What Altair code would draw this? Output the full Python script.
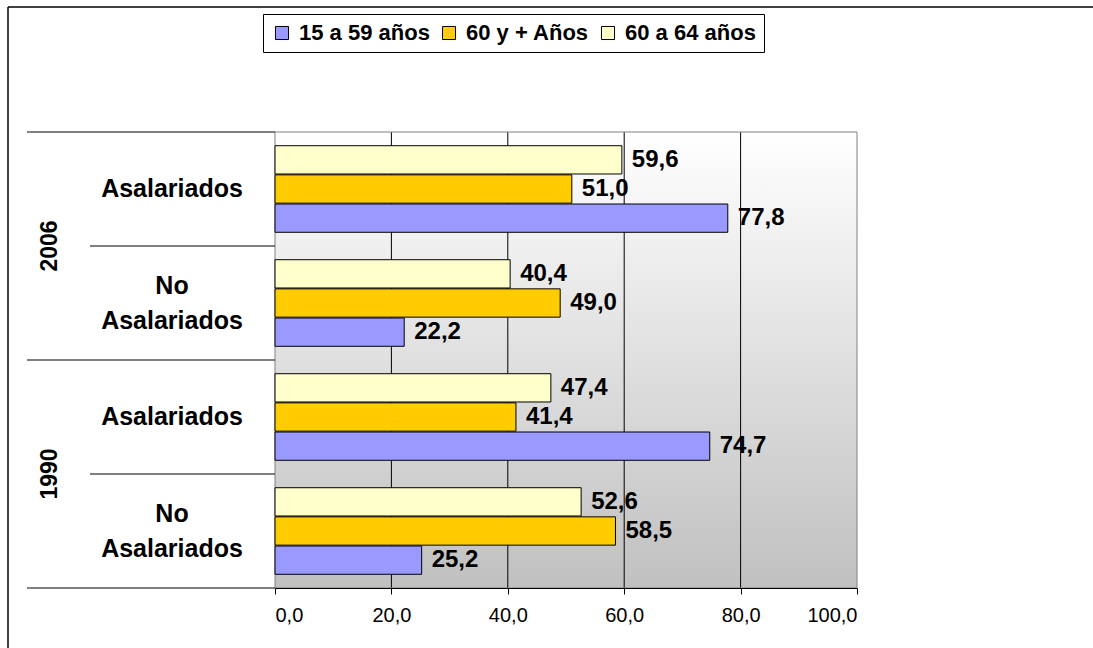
import altair as alt
import pandas as pd

years = ["2006", "2006", "1990", "1990"]
tipos = ["Asalariados", "No Asalariados", "Asalariados", "No Asalariados"]
series = ["15 a 59 años", "60 y + Años", "60 a 64 años"]
v_15_59 = [77.8, 22.2, 74.7, 25.2]
v_60_mas = [51.0, 49.0, 41.4, 58.5]
v_60_64 = [59.6, 40.4, 47.4, 52.6]
colors = ["#9999FF", "#FFCC00", "#FFFFCC"]
x_ticks = [0, 20, 40, 60, 80, 100]

FONT = "Liberation Sans"
W, H = 582, 456

cats = [f"{y}|{t}" for y, t in zip(years, tipos)]
rows = []
for s, vals in zip(series, [v_15_59, v_60_mas, v_60_64]):
    for c, y, t, v in zip(cats, years, tipos, vals):
        rows.append({"cat": c, "year": y, "tipo": t, "serie": s, "valor": v})
df = pd.DataFrame(rows)
cat_df = pd.DataFrame({"cat": cats, "year": years, "tipo": tipos,
                       "label": [t.replace("No ", "No\n") for t in tipos]})
is_no = cat_df["tipo"].str.startswith("No")
one = pd.DataFrame({"a": [0]})
grid_df = pd.DataFrame({"t": x_ticks[1:-1]})

yscale = alt.Scale(domain=cats, paddingInner=0, paddingOuter=0)
off_order = list(reversed(series))
yoff = alt.YOffset("serie:N", sort=off_order,
                   scale=alt.Scale(domain=off_order, paddingInner=0.03, paddingOuter=0.47))
xscale = alt.Scale(domain=[0, 100], nice=False)


def ycat(**kw):
    return alt.Y("cat:N", scale=yscale, axis=None, sort=cats, **kw)


bg = alt.Chart(one).mark_rect(
    fill=alt.Gradient(gradient="linear", x1=0, y1=0, x2=0, y2=1,
                      stops=[alt.GradientStop(offset=0, color="#ffffff"),
                             alt.GradientStop(offset=1, color="#c0c0c0")])
).encode(x=alt.value(0), x2=alt.value(W), y=alt.value(0), y2=alt.value(H))

grid = alt.Chart(grid_df).mark_rule(color="black", strokeWidth=1).encode(
    x=alt.X("t:Q", scale=xscale, title=None), y=alt.value(0), y2=alt.value(H))

border = alt.Chart(one).mark_rect(fill=None, stroke="#808080", strokeWidth=1).encode(
    x=alt.value(0), x2=alt.value(W), y=alt.value(0), y2=alt.value(H))

bars = alt.Chart(df).mark_bar(stroke="black", strokeWidth=1).encode(
    x=alt.X("valor:Q", scale=xscale, title=None,
            axis=alt.Axis(values=x_ticks, grid=False, zindex=1,
                          labelExpr="replace(format(datum.value, '.1f'), '.', ',')",
                          domainColor="black", tickColor="black", tickSize=6,
                          labelFontSize=20, labelFont=FONT, labelColor="black",
                          labelPadding=11)),
    y=ycat(),
    yOffset=yoff,
    color=alt.Color("serie:N", scale=alt.Scale(domain=series, range=colors),
                    legend=alt.Legend(orient="none", legendX=-12, legendY=-118,
                                      direction="horizontal", title=None,
                                      strokeColor="black", fillColor="white",
                                      padding=8, symbolType="square", symbolSize=170,
                                      symbolStrokeColor="black", symbolStrokeWidth=1,
                                      labelFontSize=22, labelFont=FONT,
                                      labelFontWeight="bold", labelColor="black",
                                      columnPadding=8, labelOffset=6)),
)

labels = alt.Chart(df).transform_calculate(
    txt="replace(format(datum.valor, '.1f'), '.', ',')"
).mark_text(align="left", baseline="middle", dx=10, fontSize=24,
            fontWeight="bold", font=FONT, color="black").encode(
    x=alt.X("valor:Q", scale=xscale, title=None),
    y=ycat(),
    yOffset=yoff,
    text="txt:N",
)

cat_single = alt.Chart(cat_df[~is_no]).mark_text(
    align="center", baseline="middle", fontSize=25, fontWeight="bold",
    font=FONT, color="black"
).encode(x=alt.value(-103), y=ycat(), text="label:N")

cat_multi = alt.Chart(cat_df[is_no]).mark_text(
    align="center", baseline="middle", fontSize=25, fontWeight="bold",
    font=FONT, color="black", lineBreak="\n", lineHeight=35, dy=-17
).encode(x=alt.value(-103), y=ycat(), text="label:N")

yearlabels = alt.Chart(cat_df[is_no]).mark_text(
    align="center", baseline="middle", fontSize=23, fontWeight="bold",
    font=FONT, color="black", angle=270
).encode(x=alt.value(-225), y=ycat(bandPosition=0), text="year:N")

long_rules = alt.Chart(cat_df[~is_no]).mark_rule(color="black", strokeWidth=1).encode(
    x=alt.value(-248), x2=alt.value(0), y=ycat(bandPosition=0))
short_rules = alt.Chart(cat_df[is_no]).mark_rule(color="black", strokeWidth=1).encode(
    x=alt.value(-185), x2=alt.value(0), y=ycat(bandPosition=0))
bottom_rule = alt.Chart(one).mark_rule(color="black", strokeWidth=1).encode(
    x=alt.value(-248), x2=alt.value(0), y=alt.value(H))

frame_top = alt.Chart(one).mark_rule(color="black", strokeWidth=1.5).encode(
    x=alt.value(-267), x2=alt.value(830), y=alt.value(-125))
frame_left = alt.Chart(one).mark_rule(color="black", strokeWidth=1.5).encode(
    x=alt.value(-267), y=alt.value(-125), y2=alt.value(530))

chart = alt.layer(
    bg, grid, border, bars, labels, cat_single, cat_multi, yearlabels,
    long_rules, short_rules, bottom_rule, frame_top, frame_left
).properties(
    width=W, height=H,
    padding={"left": 275, "top": 132, "right": 236, "bottom": 60},
    autosize="none",
    background="white",
).configure_view(stroke=None)

chart.save("out.html", embed_options={"renderer": "svg", "actions": False})
